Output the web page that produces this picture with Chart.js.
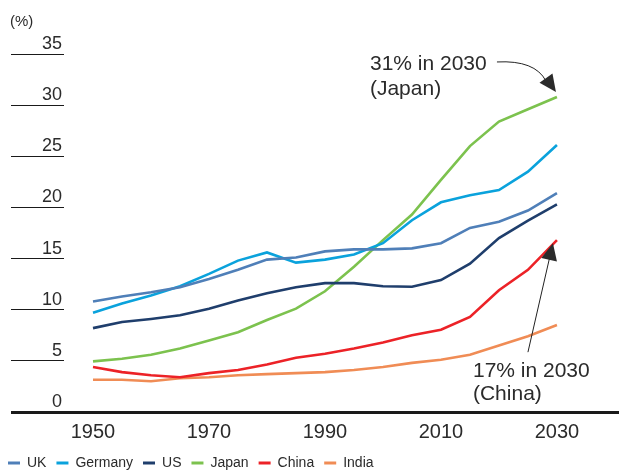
<!DOCTYPE html>
<html>
<head>
<meta charset="utf-8">
<script src="https://cdn.jsdelivr.net/npm/chart.js@4/dist/chart.umd.min.js"></script>
<style>
  html, body { margin: 0; padding: 0; background: #fff; }
  #wrap { width: 619px; height: 472px; }
</style>
</head>
<body>
<div id="wrap"><canvas id="myChart" width="619" height="472"></canvas></div>
<script>
// data (share of population, %)
const years = [1950, 1955, 1960, 1965, 1970, 1975, 1980, 1985, 1990, 1995, 2000, 2005, 2010, 2015, 2020, 2025, 2030];
const uk      = [10.8, 11.3, 11.7, 12.2, 13.0, 13.9, 14.9, 15.1, 15.7, 15.9, 15.9, 16.0, 16.5, 18.0, 18.6, 19.7, 21.4];
const germany = [9.7, 10.6, 11.4, 12.3, 13.5, 14.8, 15.6, 14.6, 14.9, 15.4, 16.5, 18.75, 20.5, 21.2, 21.7, 23.5, 26.1];
const us      = [8.2, 8.8, 9.1, 9.45, 10.1, 10.9, 11.6, 12.2, 12.6, 12.6, 12.3, 12.25, 12.9, 14.5, 17.0, 18.7, 20.3];
const japan   = [4.95, 5.2, 5.6, 6.2, 7.0, 7.8, 9.0, 10.1, 11.8, 14.2, 16.8, 19.3, 22.7, 26.0, 28.4, 29.6, 30.8];
const china   = [4.4, 3.9, 3.6, 3.4, 3.8, 4.1, 4.65, 5.3, 5.7, 6.2, 6.8, 7.5, 8.05, 9.3, 11.9, 13.9, 16.8];
const india   = [3.15, 3.15, 3.0, 3.3, 3.4, 3.6, 3.7, 3.8, 3.9, 4.1, 4.4, 4.8, 5.1, 5.6, 6.5, 7.4, 8.5];

const seriesNames = ['UK', 'Germany', 'US', 'Japan', 'China', 'India'];
const seriesColors = ['#4f7fb8', '#0aa2dc', '#1f3e6c', '#7cc24e', '#ec2227', '#f08c55'];
const xTickYears = [1950, 1970, 1990, 2010, 2030];
const unitLabel = '(%)';
const japanNote = ['31% in 2030', '(Japan)'];
const chinaNote = ['17% in 2030', '(China)'];

const FONT = '"Liberation Sans", Arial, sans-serif';
const TEXT = '#2b2b2b';

function toPoints(vals) {
  return vals.map((v, i) => ({ x: years[i], y: v }));
}

const allSeries = [uk, germany, us, japan, china, india];
const datasets = allSeries.map((vals, i) => ({
  label: seriesNames[i],
  data: toPoints(vals),
  borderColor: seriesColors[i],
  backgroundColor: seriesColors[i],
  borderWidth: 2.6,
  pointRadius: 0,
  tension: 0,
  fill: false
}));

function arrowHead(ctx, fx, fy, tx, ty, len, half) {
  let a = Math.atan2(ty - fy, tx - fx);
  let bx = tx - len * Math.cos(a), by = ty - len * Math.sin(a);
  ctx.beginPath();
  ctx.moveTo(tx, ty);
  ctx.lineTo(bx + half * Math.sin(a), by - half * Math.cos(a));
  ctx.lineTo(bx - half * Math.sin(a), by + half * Math.cos(a));
  ctx.closePath();
  ctx.fill();
}

// unit label + the two callouts
const notes = {
  id: 'notes',
  afterDraw(chart) {
    const ctx = chart.ctx;
    const xs = chart.scales.x, ys = chart.scales.y;
    ctx.save();
    ctx.fillStyle = TEXT;
    ctx.strokeStyle = '#222';
    ctx.textAlign = 'left';
    ctx.textBaseline = 'alphabetic';
    ctx.font = '15px ' + FONT;
    ctx.fillText(unitLabel, 10, 26);

    ctx.font = '21px ' + FONT;
    // Japan
    let jx = xs.getPixelForValue(2030), jy = ys.getPixelForValue(japan[japan.length - 1]);
    ctx.fillText(japanNote[0], jx - 187, jy - 27);
    ctx.fillText(japanNote[1], jx - 187, jy - 2);
    ctx.lineWidth = 1;
    ctx.beginPath();
    ctx.moveTo(jx - 60, jy - 35);
    ctx.quadraticCurveTo(jx - 22, jy - 37, jx - 11, jy - 16);
    ctx.stroke();
    arrowHead(ctx, jx - 14, jy - 23, jx - 1, jy - 5, 17, 8);

    // China
    let cx = xs.getPixelForValue(2030), cy = ys.getPixelForValue(china[china.length - 1]);
    ctx.fillText(chinaNote[0], cx - 84, cy + 137);
    ctx.fillText(chinaNote[1], cx - 84, cy + 160);
    ctx.beginPath();
    ctx.moveTo(cx - 29, cy + 112);
    ctx.lineTo(cx - 7, cy + 16);
    ctx.stroke();
    arrowHead(ctx, cx - 29, cy + 112, cx - 4, cy + 3, 17, 8);
    ctx.restore();
  }
};

let canvas = document.getElementById('myChart');
let ctx = canvas.getContext('2d');
let myChart = new Chart(ctx, {
  type: 'line',
  data: { datasets: datasets },
  options: {
    responsive: false,
    animation: false,
    layout: { padding: { left: -2, right: 0, top: 54, bottom: -8 } },
    scales: {
      x: {
        type: 'linear',
        min: 1945,
        max: 2040.7,
        afterBuildTicks: s => { s.ticks = xTickYears.map(v => ({ value: v })); },
        afterFit: s => { s.height = 34; },
        grid: { display: false, drawTicks: false },
        border: { display: true, color: '#1a1a1a', width: 3 },
        ticks: {
          callback: v => String(v),
          color: TEXT,
          font: { family: FONT, size: 20 },
          padding: 8,
          maxRotation: 0
        }
      },
      y: {
        min: 0,
        max: 35,
        afterFit: s => { s.width = 66; },
        grid: {
          drawOnChartArea: false,
          drawTicks: true,
          tickLength: 53,
          tickColor: '#1a1a1a',
          tickWidth: c => (c.tick && c.tick.value === 0 ? 3 : 1.2)
        },
        border: { display: false },
        ticks: {
          stepSize: 5,
          color: TEXT,
          font: { family: FONT, size: 18 },
          padding: -51,
          labelOffset: -10
        }
      }
    },
    plugins: {
      tooltip: { enabled: false },
      legend: {
        position: 'bottom',
        align: 'start',
        labels: {
          boxWidth: 12,
          boxHeight: 3,
          padding: 10,
          color: TEXT,
          font: { family: FONT, size: 14 },
          generateLabels: chart => Chart.defaults.plugins.legend.labels.generateLabels(chart).map(l => Object.assign(l, { lineWidth: 0 }))
        }
      }
    }
  },
  plugins: [notes]
});
</script>
</body>
</html>
